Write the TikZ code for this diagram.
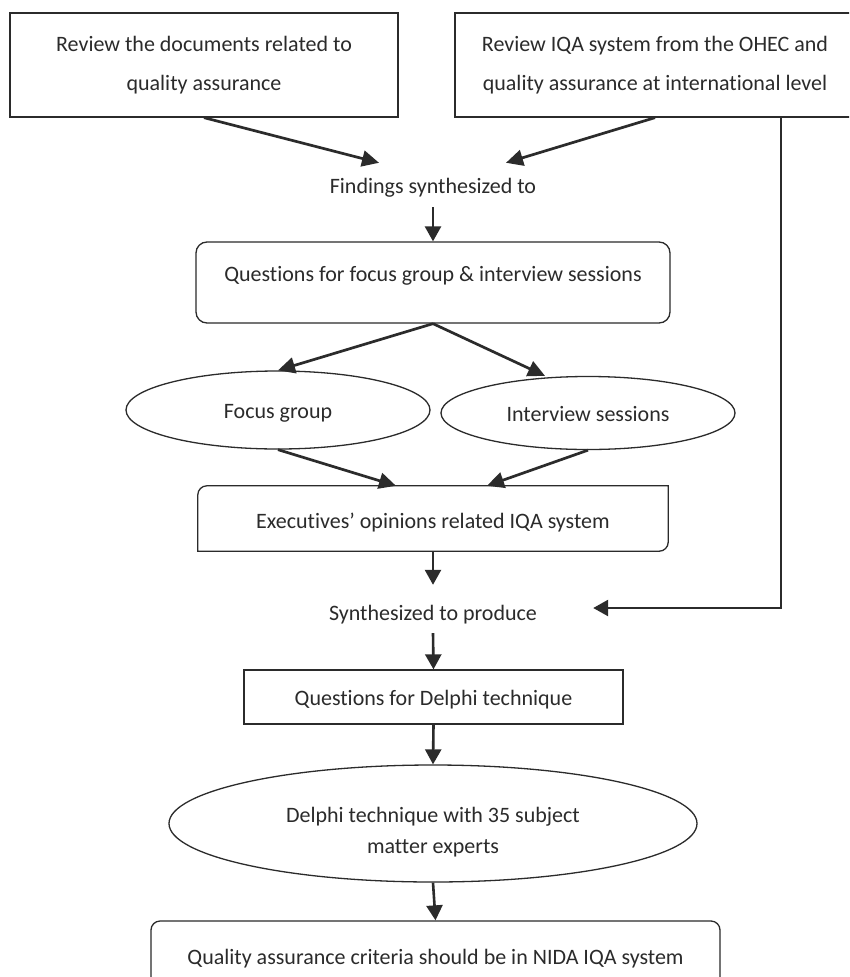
\documentclass[tikz,border=0pt]{standalone}
\usepackage{fontspec}
\setmainfont{Carlito}[Ligatures={NoCommon}]
\usetikzlibrary{arrows.meta,shapes.geometric}
\definecolor{ink}{HTML}{2B2B2B}
\tikzset{
  every node/.style={text=ink, font=\fontsize{22}{26}\selectfont, inner sep=0pt},
  sqbox/.style={draw=ink, line width=1.3pt, rectangle, align=center},
  rbox/.style={draw=ink, line width=1.3pt, rectangle, rounded corners=11pt, align=center},
  ebox/.style={draw=ink, line width=1.3pt, ellipse, align=center},
  plain/.style={align=center},
  darr/.style={draw=ink, line width=2.7pt, -{Triangle[length=17pt,width=16pt]}},
  varr/.style={draw=ink, line width=2.6pt, -{Triangle[length=15pt,width=16pt]}},
}
\begin{document}
\begin{tikzpicture}[x=1pt,y=-1pt]
\useasboundingbox (0,0) rectangle (849,977);
\fill[white] (0,0) rectangle (849,977);
\clip (0,0) rectangle (849,977);

\node[sqbox, minimum width=388pt, minimum height=104pt,
      font=\fontsize{22}{39}\selectfont] (b1) at (204,65)
      {Review the documents related to\\quality assurance};
\node[sqbox, minimum width=400pt, minimum height=104pt,
      font=\fontsize{22}{39}\selectfont] (b2) at (655,65)
      {Review IQA system from the OHEC and\\quality assurance at international level};

\node[plain, minimum width=210pt, minimum height=42pt, text height=19pt, text depth=4pt]
      (find) at (433,186) {Findings synthesized to};

\node[rbox, minimum width=474pt, minimum height=81pt, text height=15pt, text depth=17pt]
      (q) at (433,282.5) {Questions for focus group \& interview sessions};

\node[ebox, minimum width=304pt, minimum height=78pt, text height=20pt, text depth=4pt]
      (fg) at (278,410) {Focus group};
\node[ebox, minimum width=294pt, minimum height=73pt, text height=20pt, text depth=4pt]
      (iv) at (588,413) {Interview sessions};

\node[plain, minimum width=470pt, minimum height=65pt, text height=24pt, text depth=4pt]
      (ex) at (433,518.5) {Executives’ opinions related IQA system};
\draw[ink, line width=1.3pt] (ex.west) [rounded corners=9pt] |- (ex.north)
      [sharp corners] -| (ex.east) [rounded corners=9pt] |- (ex.south)
      [sharp corners] -| (ex.west) -- cycle;

\node[plain, minimum width=210pt, minimum height=48pt, text height=26pt, text depth=4pt]
      (syn) at (433,609) {Synthesized to produce};

\node[sqbox, minimum width=379pt, minimum height=54pt, text height=20pt, text depth=4pt]
      (dq) at (433.5,697) {Questions for Delphi technique};

\node[ebox, minimum width=528pt, minimum height=117pt,
      font=\fontsize{22}{31}\selectfont, text height=61pt, text depth=2pt] (de) at (433,823.5)
      {Delphi technique with 35 subject\\matter experts};

\node[rbox, rounded corners=9pt, minimum width=569pt, minimum height=76pt] (fin) at (435.5,959)
      {Quality assurance criteria should be in NIDA IQA system};

% connectors
\draw[darr] (b1.south) -- ([shift={(-54,-2)}]find.north);
\draw[darr] (b2.south) -- ([shift={(73,-2)}]find.north);
\draw[varr] (find.south) -- (q.north);
\draw[darr] (q.south) -- (fg.north);
\draw[darr] (q.south) -- ([xshift=-43pt]iv.north);
\draw[darr] (fg.south) -- ([xshift=-37pt]ex.north);
\draw[darr] (iv.south) -- ([xshift=54pt]ex.north);
\draw[varr] (ex.south) -- (syn.north);
\draw[varr] ([xshift=126pt]b2.south) |- ([shift={(55,-1)}]syn.east);
\draw[varr] (syn.south) -- (dq.north);
\draw[varr] (dq.south) -- (de.north);
\draw[varr] (de.south) -- (fin.north);
\end{tikzpicture}
\end{document}
